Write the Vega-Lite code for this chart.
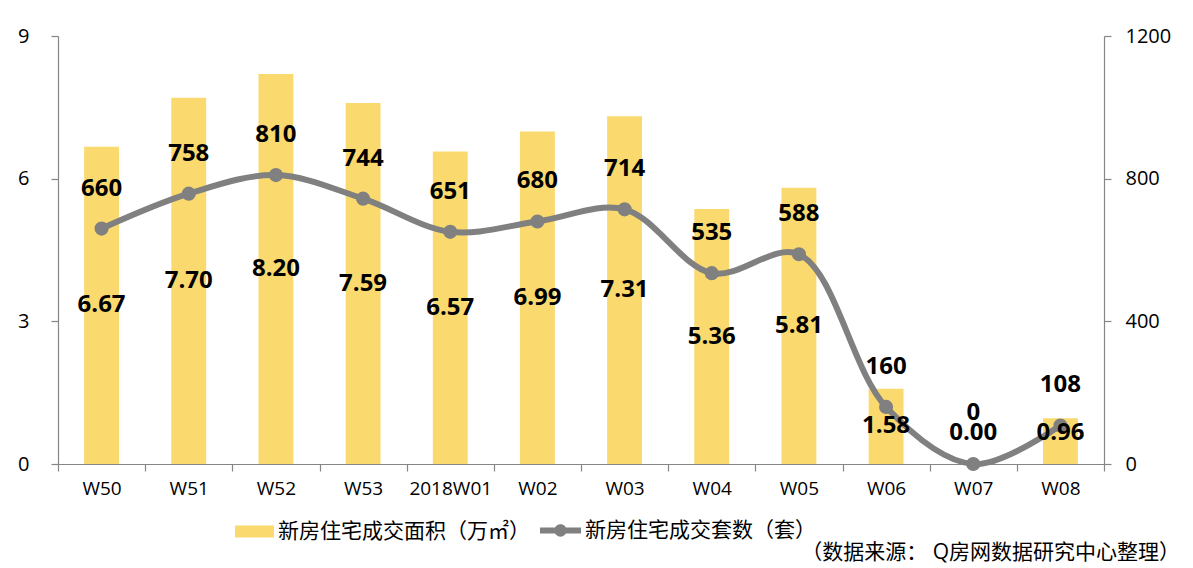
{
  "$schema": "https://vega.github.io/schema/vega-lite/v6.json",
  "width": 1046,
  "height": 428,
  "autosize": "none",
  "padding": {"left": 58, "top": 36, "right": 89, "bottom": 104},
  "background": "white",
  "config": {
    "font": "Open Sans, Noto Sans CJK SC",
    "view": {"stroke": null},
    "axis": {"domainColor": "#868686", "tickColor": "#868686", "labelColor": "black", "grid": false, "title": null, "domainWidth": 1.2, "tickWidth": 1.2}
  },
  "data": {
    "values": [
      {"week": "W50", "area": 6.67, "count": 660},
      {"week": "W51", "area": 7.70, "count": 758},
      {"week": "W52", "area": 8.20, "count": 810},
      {"week": "W53", "area": 7.59, "count": 744},
      {"week": "2018W01", "area": 6.57, "count": 651},
      {"week": "W02", "area": 6.99, "count": 680},
      {"week": "W03", "area": 7.31, "count": 714},
      {"week": "W04", "area": 5.36, "count": 535},
      {"week": "W05", "area": 5.81, "count": 588},
      {"week": "W06", "area": 1.58, "count": 160},
      {"week": "W07", "area": 0.00, "count": 0},
      {"week": "W08", "area": 0.96, "count": 108}
    ]
  },
  "transform": [
    {"calculate": "max(datum.area / 2, 0.65)", "as": "areaLabelY"},
    {"calculate": "max(datum.count, 32)", "as": "countLabelY"}
  ],
  "title": {
    "text": "（数据来源： Q房网数据研究中心整理）",
    "orient": "bottom",
    "anchor": "end",
    "frame": "group",
    "dx": 76,
    "offset": 0,
    "fontSize": 21,
    "fontWeight": "normal",
    "color": "black"
  },
  "encoding": {
    "x": {
      "field": "week",
      "type": "nominal",
      "sort": null,
      "scale": {"paddingInner": 0, "paddingOuter": 0},
      "axis": {"labelAngle": 0, "labelFontSize": 19, "tickSize": 7, "labelPadding": 8, "tickBand": "extent", "title": null}
    }
  },
  "layer": [
    {
      "mark": {"type": "bar", "width": {"band": 0.4}},
      "encoding": {
        "y": {"field": "area", "type": "quantitative", "scale": {"domain": [0, 9], "nice": false}, "axis": {"orient": "left", "values": [0, 3, 6, 9], "labelFontSize": 20, "tickSize": 7, "labelPadding": 22}},
        "color": {"datum": "新房住宅成交面积（万㎡）", "scale": {"range": ["#FAD96E"]},
          "legend": {"title": null, "orient": "none", "legendX": 177, "legendY": 476, "padding": 0, "symbolType": "M-1,-0.31H1V0.31H-1Z", "symbolSize": 1521, "symbolStrokeWidth": 0, "labelFontSize": 21, "labelColor": "black", "labelOffset": 4, "labelLimit": 400}}
      }
    },
    {
      "mark": {"type": "line", "interpolate": "catmull-rom", "strokeWidth": 6, "color": "#808080"},
      "encoding": {"y": {"field": "count", "type": "quantitative", "scale": {"domain": [0, 1200], "nice": false}, "axis": {"orient": "right", "values": [0, 400, 800, 1200], "format": "d", "labelFontSize": 20, "tickSize": 7, "labelPadding": 14}}}
    },
    {
      "mark": {"type": "point", "filled": true, "size": 200, "opacity": 1},
      "encoding": {
        "y": {"field": "count", "type": "quantitative", "scale": {"domain": [0, 1200], "nice": false}, "axis": null},
        "fill": {"datum": "新房住宅成交套数（套）", "scale": {"range": ["#808080"]},
          "legend": {"title": null, "orient": "none", "legendX": 482, "legendY": 474, "padding": 0, "symbolType": "M-1,-0.15H1V0.15H-1Z M0.3,0A0.3,0.3 0 1,1 -0.3,0A0.3,0.3 0 1,1 0.3,0Z", "symbolSize": 1681, "symbolStrokeWidth": 0, "symbolOpacity": 1, "labelFontSize": 21, "labelColor": "black", "labelOffset": 4, "labelLimit": 400}}
      }
    },
    {
      "mark": {"type": "text", "fontSize": 24, "fontWeight": "bold", "color": "black", "dy": -40, "baseline": "middle"},
      "encoding": {
        "y": {"field": "countLabelY", "type": "quantitative", "scale": {"domain": [0, 1200], "nice": false}, "axis": null},
        "text": {"field": "count", "type": "quantitative"}
      }
    },
    {
      "mark": {"type": "text", "fontSize": 24, "fontWeight": "bold", "color": "black", "baseline": "middle"},
      "encoding": {
        "y": {"field": "areaLabelY", "type": "quantitative", "scale": {"domain": [0, 9], "nice": false}, "axis": null},
        "text": {"field": "area", "type": "quantitative", "format": ".2f"}
      }
    }
  ],
  "resolve": {"scale": {"y": "independent"}}
}
